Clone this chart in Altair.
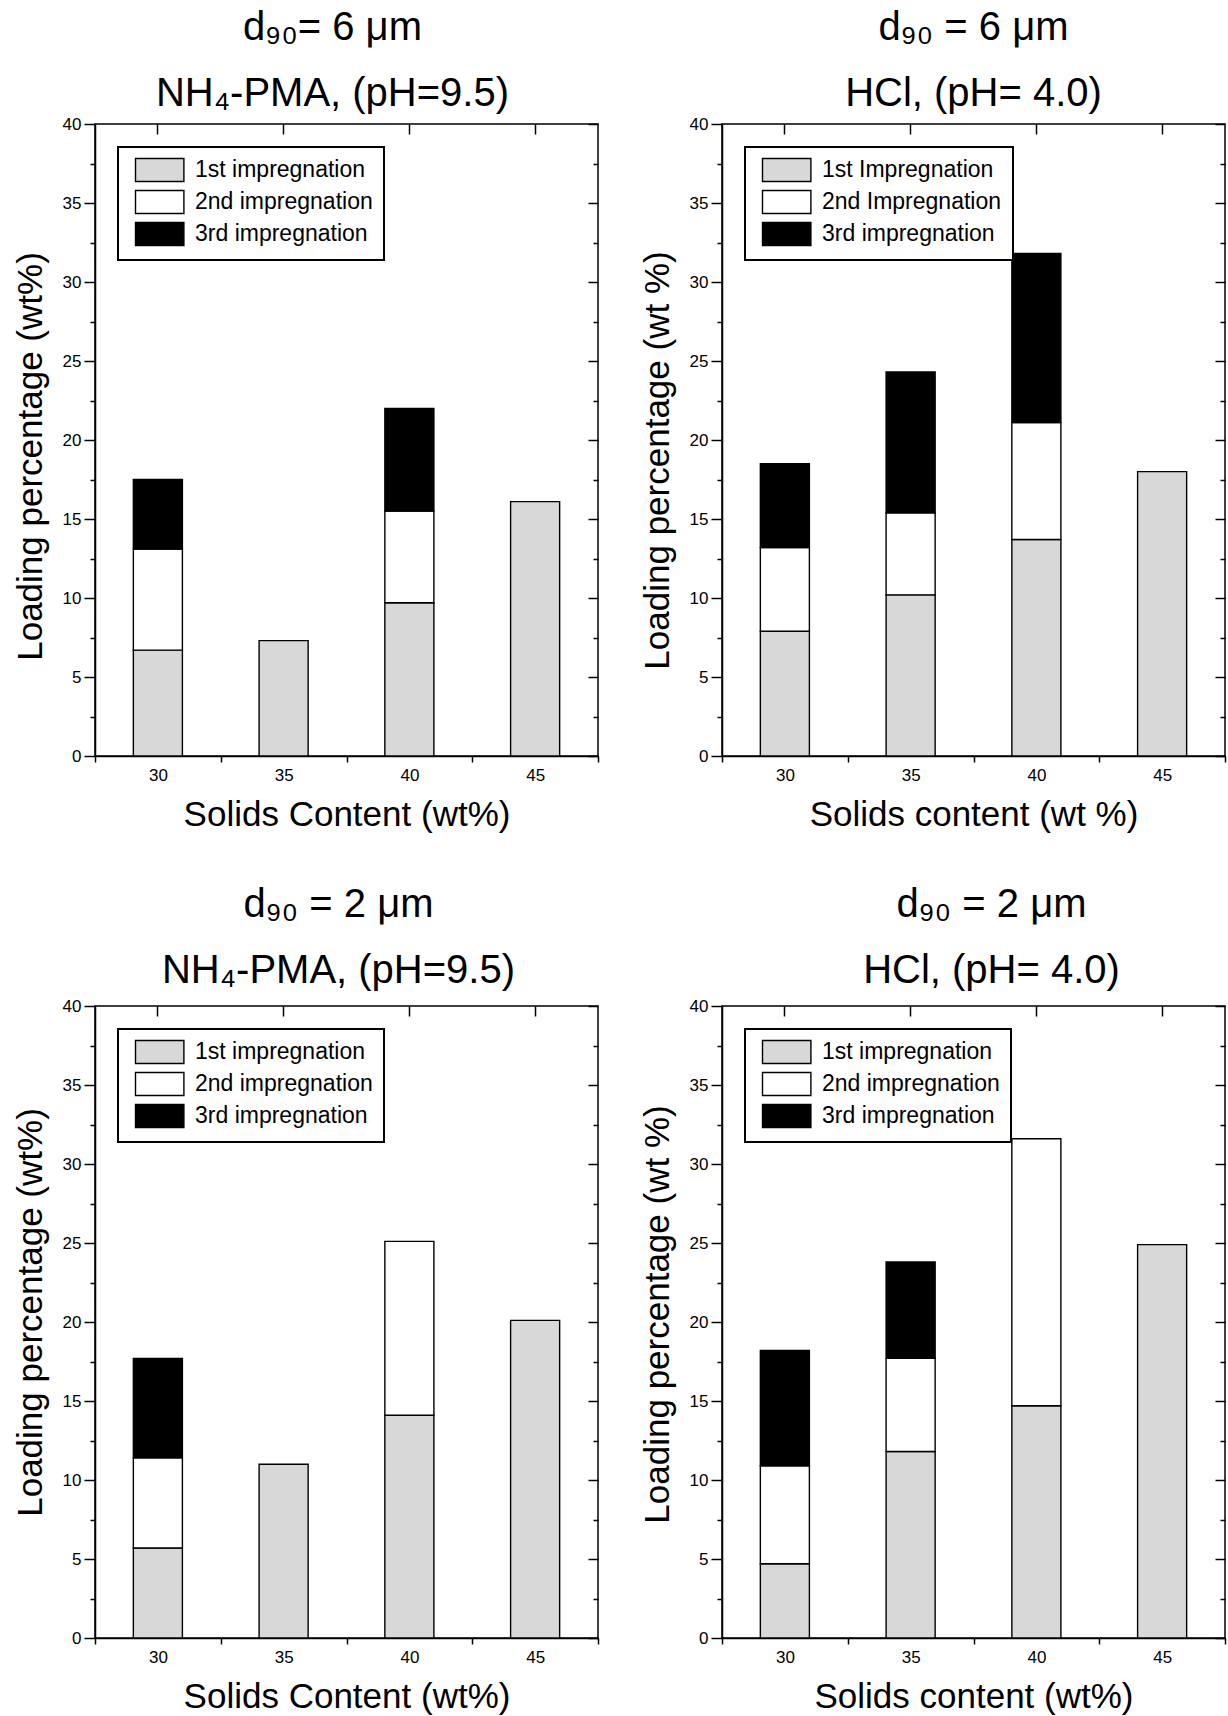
import altair as alt
import pandas as pd

FONT = "Liberation Sans"

solids = ["30", "35", "40", "45"]
stage_idx = [1, 2, 3]

# Panel A: d90 = 6 um, NH4-PMA (pH 9.5)
a_first = [6.7, 7.3, 9.7, 16.1]
a_second = [6.4, 0.0, 5.8, 0.0]
a_third = [4.4, 0.0, 6.5, 0.0]
a_labels = ["1st impregnation", "2nd impregnation", "3rd impregnation"]

# Panel B: d90 = 6 um, HCl (pH 4.0)
b_first = [7.9, 10.2, 13.7, 18.0]
b_second = [5.3, 5.2, 7.4, 0.0]
b_third = [5.3, 8.9, 10.7, 0.0]
b_labels = ["1st Impregnation", "2nd Impregnation", "3rd impregnation"]

# Panel C: d90 = 2 um, NH4-PMA (pH 9.5)
c_first = [5.7, 11.0, 14.1, 20.1]
c_second = [5.7, 0.0, 11.0, 0.0]
c_third = [6.3, 0.0, 0.0, 0.0]
c_labels = ["1st impregnation", "2nd impregnation", "3rd impregnation"]

# Panel D: d90 = 2 um, HCl (pH 4.0)
d_first = [4.7, 11.8, 14.7, 24.9]
d_second = [6.2, 5.9, 16.9, 0.0]
d_third = [7.3, 6.1, 0.0, 0.0]
d_labels = ["1st impregnation", "2nd impregnation", "3rd impregnation"]

titles = [
    ["d\u2089\u2080= 6 \u03bcm", "NH\u2084-PMA, (pH=9.5)"],
    ["d\u2089\u2080 = 6 \u03bcm", "HCl, (pH= 4.0)"],
    ["d\u2089\u2080 = 2 \u03bcm", "NH\u2084-PMA, (pH=9.5)"],
    ["d\u2089\u2080 = 2 \u03bcm", "HCl, (pH= 4.0)"],
]
x_titles = ["Solids Content (wt%)", "Solids content (wt %)",
            "Solids Content (wt%)", "Solids content (wt%)"]
y_titles = ["Loading percentage (wt%)", "Loading percentage (wt %)",
            "Loading percentage (wt%)", "Loading percentage (wt %)"]

# layout tweaks per panel (pixels)
title_dx = [-14, 0, -8, 18]
title_offset = [1, 1, 6, 6]
ytitle_y = [332, 336, 306, 308]

y_values = [i * 2.5 for i in range(17)]
fills = ["#d8d8d8", "#ffffff", "#000000"]

W, H = 503, 632


def make_df(first, second, third, labels):
    rows = []
    for series, idx, lab in zip([first, second, third], stage_idx, labels):
        for s, v in zip(solids, series):
            if v > 0:
                rows.append({"solids": s, "value": v, "stage": lab, "idx": idx})
    return pd.DataFrame(rows)


def panel(df, labels, title, xt, yt, dx, off, ty):
    base = alt.Chart(df)
    xscale = alt.Scale(paddingInner=0, paddingOuter=0)
    yscale = alt.Scale(domain=[0, 40], nice=False, zero=True)
    bars = base.mark_bar(
        stroke="black", strokeWidth=1.4, width=alt.RelativeBandSize(0.39)
    ).encode(
        x=alt.X("solids:N", sort=solids, scale=xscale,
                axis=alt.Axis(title=xt, tickBand="extent", labelAngle=0,
                              tickSize=6, labelPadding=5, titlePadding=14)),
        y=alt.Y("value:Q", stack="zero", scale=yscale,
                axis=alt.Axis(title=yt, values=y_values,
                              labelExpr="datum.value % 5 === 0 ? datum.label : ''",
                              labelOverlap=False,
                              tickSize=alt.ExprRef(expr="datum.value % 5 === 0 ? 11 : 5"),
                              labelPadding=3, titlePadding=14, titleY=ty)),
        color=alt.Color("stage:N", sort=labels,
                        scale=alt.Scale(domain=labels, range=fills),
                        legend=alt.Legend(
                            title=None, orient="top-left", offset=23, padding=11,
                            strokeColor="black", fillColor="white",
                            symbolType="M-0.5,-1.05H3.9V1.05H-0.5Z", symbolSize=484,
                            symbolStrokeColor="black", symbolStrokeWidth=1.4,
                            symbolOpacity=1, labelOffset=42, labelLimit=400,
                            labelFont=FONT, labelFontSize=23, labelColor="black",
                            rowPadding=2)),
        order=alt.Order("idx:Q", sort="ascending"),
    )
    frame = base.mark_bar(opacity=0).encode(
        x=alt.X("solids:N", sort=solids, scale=xscale,
                axis=alt.Axis(orient="top", labels=False, title=None,
                              tickBand="center", domain=False,
                              tickSize=alt.ExprRef(expr="-10"))),
        y=alt.Y("value:Q", stack="zero", scale=yscale,
                axis=alt.Axis(orient="right", labels=False, title=None,
                              values=y_values, domain=False,
                              tickSize=alt.ExprRef(expr="datum.value % 5 === 0 ? -10 : -5"))),
    )
    return alt.layer(bars, frame).resolve_axis(
        x="independent", y="independent"
    ).properties(
        width=W, height=H,
        title=alt.TitleParams(text=title, fontSize=40, lineHeight=66, font=FONT,
                              fontWeight="normal", color="black", anchor="middle",
                              offset=off, dx=dx),
    )


dfs = [
    make_df(a_first, a_second, a_third, a_labels),
    make_df(b_first, b_second, b_third, b_labels),
    make_df(c_first, c_second, c_third, c_labels),
    make_df(d_first, d_second, d_third, d_labels),
]
labs = [a_labels, b_labels, c_labels, d_labels]
panels = [panel(dfs[i], labs[i], titles[i], x_titles[i], y_titles[i],
                title_dx[i], title_offset[i], ytitle_y[i]) for i in range(4)]

top = alt.hconcat(panels[0], panels[1], spacing=39).resolve_scale(color="independent")
bottom = alt.hconcat(panels[2], panels[3], spacing=39).resolve_scale(color="independent")

chart = alt.vconcat(top, bottom, spacing=51).resolve_scale(
    color="independent"
).properties(
    padding={"left": 12, "top": 7, "right": 0, "bottom": 0},
    background="white",
).configure_view(
    stroke="black", strokeWidth=1.5
).configure_axis(
    labelFont=FONT, labelFontSize=17, labelColor="black",
    titleFont=FONT, titleFontSize=35, titleFontWeight="normal", titleColor="black",
    domainColor="black", domainWidth=1.5, tickColor="black", tickWidth=1.5,
    grid=False,
).configure_legend(
    strokeWidth=2,
)

chart.save("out.html", embed_options={"renderer": "svg", "actions": False})
